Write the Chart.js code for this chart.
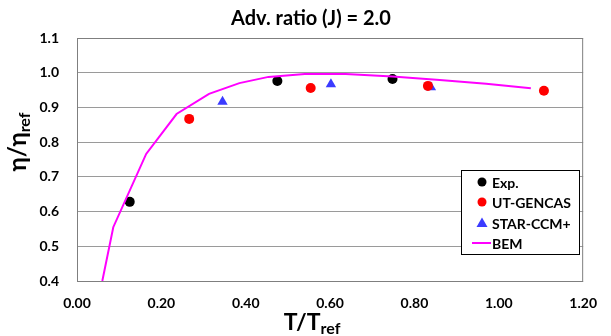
<!DOCTYPE html>
<html>
<head>
<meta charset="utf-8">
<script src="https://cdn.jsdelivr.net/npm/chart.js@4"></script>
<style>
  html, body { margin: 0; padding: 0; background: #fff; }
  #wrap { width: 611px; height: 336px; }
</style>
</head>
<body>
<div id="wrap"><canvas id="etaChart" width="611" height="336"></canvas></div>
<script>
// Efficiency ratio vs thrust ratio, J = 2.0
const expT = [0.125, 0.475, 0.748];
const expEta = [0.628, 0.976, 0.982];

const gencasT = [0.266, 0.554, 0.832, 1.107];
const gencasEta = [0.867, 0.956, 0.962, 0.948];

const starT = [0.345, 0.602, 0.839];
const starEta = [0.916, 0.967, 0.958];

const bemT = [0.060, 0.086, 0.164, 0.236, 0.313, 0.385, 0.454, 0.540, 0.637, 0.748, 0.860, 0.970, 1.076];
const bemEta = [0.400, 0.555, 0.766, 0.881, 0.939, 0.970, 0.988, 0.996, 0.996, 0.989, 0.979, 0.968, 0.955];

const xTicks = [0, 0.2, 0.4, 0.6, 0.8, 1.0, 1.2];
const yTicks = [0.4, 0.5, 0.6, 0.7, 0.8, 0.9, 1.0, 1.1];

const FONT = 'Lato, "Open Sans", sans-serif';

const pts = (xs, ys) => xs.map((x, i) => ({ x: x, y: ys[i] }));

// frame, title, axis titles (with subscripts) and the boxed legend
const decorations = {
    id: 'decorations',
    afterDraw(chart) {
        const ctx = chart.ctx;
        const a = chart.chartArea;
        ctx.save();

        ctx.strokeStyle = '#7f7f7f';
        ctx.lineWidth = 1;
        ctx.strokeRect(a.left + 0.5, a.top + 0.5, a.right - a.left - 1, a.bottom - a.top);

        ctx.fillStyle = '#000';
        ctx.textBaseline = 'middle';
        ctx.textAlign = 'center';
        ctx.font = 'bold 20px ' + FONT;
        ctx.fillText('Adv. ratio (J) = 2.0', 311, 19);

        // subscripted label helper
        const withSub = (main, sub, cx, cy, big, small) => {
            ctx.font = 'bold ' + big + 'px ' + FONT;
            const w1 = ctx.measureText(main).width;
            ctx.font = 'bold ' + small + 'px ' + FONT;
            const w2 = ctx.measureText(sub).width;
            const x0 = cx - (w1 + w2) / 2;
            ctx.textAlign = 'left';
            ctx.textBaseline = 'alphabetic';
            ctx.font = 'bold ' + big + 'px ' + FONT;
            ctx.fillText(main, x0, cy);
            ctx.font = 'bold ' + small + 'px ' + FONT;
            ctx.fillText(sub, x0 + w1, cy + 4);
        };

        withSub('T/T', 'ref', 312, 330, 23, 16);

        ctx.save();
        ctx.translate(26, 142);
        ctx.rotate(-Math.PI / 2);
        withSub('\u03b7/\u03b7', 'ref', 0, 0, 24, 16);
        ctx.restore();

        // legend
        const lx = 461, ly = 170, lw = 118, lh = 84;
        ctx.fillStyle = '#fff';
        ctx.fillRect(lx, ly, lw, lh);
        ctx.strokeStyle = '#000';
        ctx.lineWidth = 1;
        ctx.strokeRect(lx + 0.5, ly + 0.5, lw, lh);

        const rows = [
            { label: 'Exp.', y: 182, kind: 'circle', color: '#000000' },
            { label: 'UT-GENCAS', y: 202, kind: 'circle', color: '#ff0000' },
            { label: 'STAR-CCM+', y: 223, kind: 'triangle', color: '#3b3bff' },
            { label: 'BEM', y: 243, kind: 'line', color: '#ff00ff' }
        ];
        rows.forEach(r => {
            ctx.fillStyle = r.color;
            ctx.strokeStyle = r.color;
            if (r.kind === 'circle') {
                ctx.beginPath();
                ctx.arc(482, r.y, 4.5, 0, Math.PI * 2);
                ctx.fill();
            } else if (r.kind === 'triangle') {
                ctx.beginPath();
                ctx.moveTo(482, r.y - 5.5);
                ctx.lineTo(487.5, r.y + 4);
                ctx.lineTo(476.5, r.y + 4);
                ctx.closePath();
                ctx.fill();
            } else {
                ctx.lineWidth = 2;
                ctx.beginPath();
                ctx.moveTo(472, r.y);
                ctx.lineTo(491, r.y);
                ctx.stroke();
            }
            ctx.fillStyle = '#000';
            ctx.font = 'bold 14px ' + FONT;
            ctx.textAlign = 'left';
            ctx.textBaseline = 'middle';
            ctx.fillText(r.label, 492, r.y + 1);
        });

        ctx.restore();
    }
};

new Chart(document.getElementById('etaChart'), {
    type: 'scatter',
    data: {
        datasets: [
            {
                label: 'BEM',
                data: pts(bemT, bemEta),
                showLine: true,
                borderColor: '#ff00ff',
                backgroundColor: '#ff00ff',
                borderWidth: 2,
                pointRadius: 0,
                tension: 0
            },
            {
                label: 'Exp.',
                data: pts(expT, expEta),
                pointStyle: 'circle',
                pointRadius: 5,
                backgroundColor: '#000000',
                borderColor: '#000000',
                borderWidth: 0
            },
            {
                label: 'UT-GENCAS',
                data: pts(gencasT, gencasEta),
                pointStyle: 'circle',
                pointRadius: 5,
                backgroundColor: '#ff0000',
                borderColor: '#ff0000',
                borderWidth: 0
            },
            {
                label: 'STAR-CCM+',
                data: pts(starT, starEta),
                pointStyle: 'triangle',
                pointRadius: 6,
                backgroundColor: '#3b3bff',
                borderColor: '#3b3bff',
                borderWidth: 0
            }
        ]
    },
    options: {
        responsive: false,
        animation: false,
        layout: { padding: { top: 38, right: 16, left: 0, bottom: 0 } },
        plugins: { legend: { display: false }, title: { display: false }, tooltip: { enabled: false } },
        scales: {
            x: {
                type: 'linear',
                min: 0,
                max: 1.2,
                afterBuildTicks: s => { s.ticks = xTicks.map(v => ({ value: v })); },
                afterFit: s => { s.height = 55; },
                grid: { display: false, drawTicks: false },
                border: { display: false },
                ticks: {
                    autoSkip: false,
                    maxRotation: 0,
                    padding: 14,
                    color: '#000',
                    font: { family: FONT, size: 14, weight: 'bold' },
                    callback: v => v.toFixed(2)
                }
            },
            y: {
                min: 0.4,
                max: 1.1,
                afterBuildTicks: s => { s.ticks = yTicks.map(v => ({ value: v })); },
                afterFit: s => { s.width = 77; },
                grid: { color: '#9a9a9a', lineWidth: 1, drawTicks: false },
                border: { display: false },
                ticks: {
                    padding: 18,
                    color: '#000',
                    font: { family: FONT, size: 14, weight: 'bold' },
                    callback: v => v.toFixed(1)
                }
            }
        }
    },
    plugins: [decorations]
});
</script>
</body>
</html>
